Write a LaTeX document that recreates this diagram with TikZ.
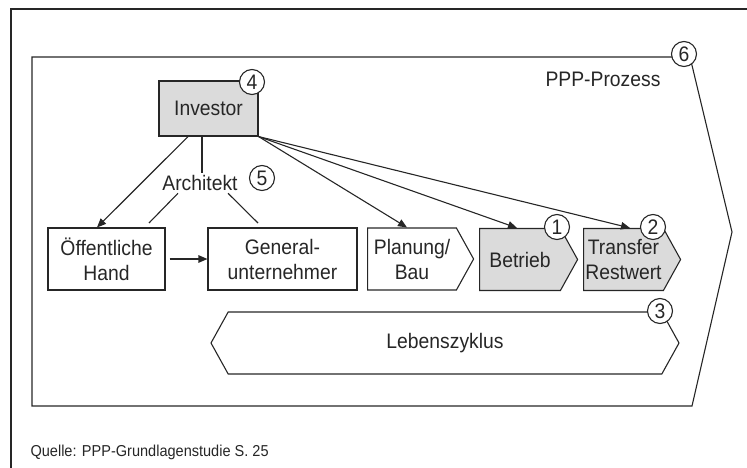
\documentclass[tikz,border=0pt]{standalone}
\usepackage{fontspec}
\setmainfont[FakeStretch=0.92]{Liberation Sans}
\usetikzlibrary{arrows.meta}
\usetikzlibrary{shapes.symbols}

\begin{document}
\begin{tikzpicture}[x=1pt, y=-1pt, line width=1.1pt, color=black!85,
    every node/.style={font=\fontsize{21}{25}\selectfont},
    box/.style={draw, rectangle, minimum height=62pt, align=center, inner sep=0pt},
    phase/.style={draw, signal, signal to=east, signal pointer angle=122,
        minimum height=62pt, align=center, inner sep=0pt},
    num/.style={draw, circle, fill=white, minimum size=25pt, inner sep=0pt},
    pfeil/.style={-{Triangle[length=9pt, width=7.5pt]}}]
    \useasboundingbox (0,0) rectangle (747,468);

    % Frame and PPP process
    \draw (11,468) -- (11,9) -- (747,9);
    \draw (32,57) -- (690,57) -- (732,232) -- (692,406) -- (32,406) -- cycle;
    \node (ppp) at (603,79) {PPP-Prozess};

    % Actors
    \node[box, fill=black!14, minimum width=99pt, minimum height=55pt] (inv) at (208.5,108.5) {Investor};
    \node[inner sep=2pt] (arch) at (200,183) {Architekt};
    \node[box, minimum width=117pt] (oef) at (106.5,259) {Öffentliche\\Hand};
    \node[box, minimum width=149pt] (gen) at (282.5,259) {General-\\unternehmer};

    % Phases
    \node[phase, minimum width=106pt] (plan) at (412,259) {Planung/\\Bau};
    \node[phase, fill=black!14, minimum width=98pt] (betr) at (520,259.5) {Betrieb};
    \node[phase, fill=black!14, minimum width=97pt] (trans) at (623.5,259.5) {Transfer\\Restwert};
    \node[phase, signal to=east and west, minimum width=468pt] (leben) at (445,343) {Lebenszyklus};

    % Connections
    \coordinate (oefa) at (149,223);
    \coordinate (gena) at (258,223);
    \draw[pfeil] ([xshift=-20.5pt]inv.south) -- ([xshift=-9.5pt]oef.north);
    \draw ([xshift=-6.5pt]inv.south) -- ([xshift=2pt]arch.north);
    \draw ([xshift=-22pt]arch.south) -- (oefa);
    \draw ([xshift=28pt]arch.south) -- (gena);
    \draw[pfeil] ([xshift=4pt]oef.east) -- (gen.west);
    \draw[pfeil] (inv.south east) -- ([xshift=-5pt]plan.north);
    \draw[pfeil] (inv.south east) -- ([xshift=-3pt]betr.north);
    \draw[pfeil] (inv.south east) -- ([xshift=6.5pt]trans.north);

    % Numbers
    \node[num] (n1) at (557,227) {1};
    \node[num] (n2) at (653,227) {2};
    \node[num] (n3) at (660,311) {3};
    \node[num] (n4) at (252,82) {4};
    \node[num, fill=none] (n5) at (262,178) {5};
    \node[num] (n6) at (684,54) {6};

    \node[anchor=west, inner sep=0pt, font=\fontsize{15.8}{18}\selectfont] (quelle) at (30,452) {Quelle: PPP-Grundlagenstudie S. 25};
\end{tikzpicture}
\end{document}
